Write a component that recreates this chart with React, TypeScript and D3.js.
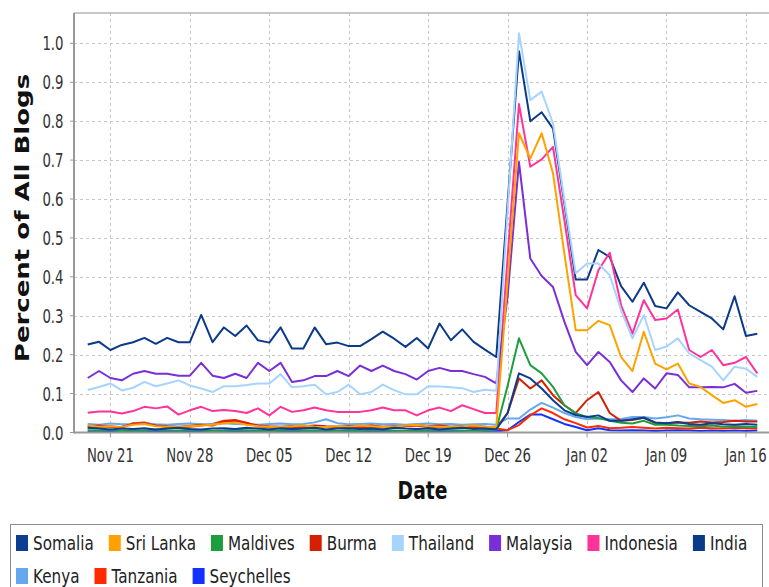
import React, { useEffect, useRef } from "react";
import * as d3 from "d3";

// daily share of all blogs mentioning each country, Nov 19 2004 .. Jan 17 2005
const parseDay = d3.timeParse("%Y-%m-%d");
const firstDay = parseDay("2004-11-19");
const lastDay = parseDay("2005-01-17");
const days = d3.timeDay.range(firstDay, d3.timeDay.offset(lastDay, 1));

const tickDays = [
  "2004-11-21", "2004-11-28", "2004-12-05", "2004-12-12", "2004-12-19",
  "2004-12-26", "2005-01-02", "2005-01-09", "2005-01-16",
].map(parseDay);

const yTicks = [0, 0.1, 0.2, 0.3, 0.4, 0.5, 0.6, 0.7, 0.8, 0.9, 1.0];

const countries = [
  "Somalia", "Sri Lanka", "Maldives", "Burma", "Thailand", "Malaysia",
  "Indonesia", "India", "Kenya", "Tanzania", "Seychelles",
];
const colors = [
  "#0b3d91", "#ffa200", "#1d9e3e", "#d42000", "#a6d4ff", "#7a2fd6",
  "#ff3399", "#0a3a88", "#66a8ee", "#ff2a00", "#1432ff",
];

const somalia = [
  0.012, 0.010, 0.008, 0.010, 0.009, 0.011, 0.008, 0.010, 0.012, 0.009,
  0.008, 0.010, 0.011, 0.009, 0.012, 0.010, 0.008, 0.011, 0.009, 0.010,
  0.012, 0.008, 0.010, 0.011, 0.009, 0.010, 0.008, 0.012, 0.010, 0.009,
  0.011, 0.008, 0.010, 0.012, 0.009, 0.010, 0.008, 0.050, 0.152, 0.139,
  0.113, 0.083, 0.057, 0.045, 0.040, 0.044, 0.030, 0.030, 0.034, 0.038,
  0.026, 0.024, 0.027, 0.022, 0.020, 0.024, 0.021, 0.020, 0.022, 0.020,
];
const sriLanka = [
  0.018, 0.015, 0.016, 0.014, 0.020, 0.022, 0.016, 0.015, 0.014, 0.016,
  0.018, 0.020, 0.024, 0.026, 0.020, 0.016, 0.015, 0.014, 0.016, 0.018,
  0.015, 0.014, 0.016, 0.015, 0.018, 0.016, 0.014, 0.015, 0.018, 0.020,
  0.016, 0.015, 0.014, 0.016, 0.018, 0.015, 0.014, 0.390, 0.769, 0.704,
  0.769, 0.666, 0.460, 0.263, 0.263, 0.287, 0.276, 0.194, 0.158, 0.259,
  0.177, 0.162, 0.177, 0.126, 0.117, 0.096, 0.076, 0.083, 0.066, 0.073,
];
const maldives = [
  0.006, 0.005, 0.007, 0.004, 0.006, 0.005, 0.008, 0.006, 0.005, 0.007,
  0.006, 0.004, 0.005, 0.007, 0.006, 0.005, 0.004, 0.006, 0.007, 0.005,
  0.006, 0.005, 0.004, 0.006, 0.005, 0.007, 0.006, 0.005, 0.004, 0.006,
  0.005, 0.007, 0.006, 0.005, 0.004, 0.006, 0.008, 0.120, 0.242, 0.173,
  0.152, 0.117, 0.070, 0.049, 0.040, 0.037, 0.030, 0.025, 0.023, 0.030,
  0.020, 0.020, 0.018, 0.017, 0.016, 0.018, 0.015, 0.016, 0.015, 0.014,
];
const burma = [
  0.016, 0.018, 0.014, 0.015, 0.022, 0.024, 0.018, 0.016, 0.015, 0.017,
  0.020, 0.018, 0.028, 0.030, 0.024, 0.018, 0.016, 0.015, 0.017, 0.016,
  0.018, 0.016, 0.015, 0.017, 0.016, 0.018, 0.015, 0.016, 0.017, 0.019,
  0.016, 0.018, 0.015, 0.017, 0.016, 0.015, 0.012, 0.050, 0.139, 0.113,
  0.134, 0.096, 0.070, 0.050, 0.083, 0.104, 0.050, 0.030, 0.032, 0.038,
  0.025, 0.024, 0.026, 0.025, 0.028, 0.026, 0.027, 0.030, 0.028, 0.028,
];
const thailand = [
  0.109, 0.117, 0.126, 0.108, 0.115, 0.130, 0.119, 0.126, 0.134, 0.121,
  0.113, 0.104, 0.119, 0.119, 0.122, 0.126, 0.126, 0.150, 0.116, 0.119,
  0.123, 0.098, 0.104, 0.123, 0.098, 0.104, 0.123, 0.109, 0.098, 0.098,
  0.119, 0.118, 0.116, 0.114, 0.104, 0.110, 0.107, 0.570, 1.026, 0.854,
  0.876, 0.794, 0.597, 0.409, 0.434, 0.434, 0.404, 0.314, 0.242, 0.302,
  0.212, 0.221, 0.242, 0.203, 0.186, 0.169, 0.134, 0.169, 0.164, 0.143,
];
const malaysia = [
  0.140, 0.158, 0.140, 0.134, 0.151, 0.158, 0.151, 0.151, 0.146, 0.146,
  0.179, 0.146, 0.140, 0.151, 0.140, 0.179, 0.158, 0.179, 0.130, 0.134,
  0.145, 0.145, 0.158, 0.145, 0.172, 0.158, 0.172, 0.158, 0.150, 0.136,
  0.158, 0.166, 0.158, 0.158, 0.150, 0.143, 0.126, 0.350, 0.695, 0.447,
  0.402, 0.374, 0.285, 0.207, 0.173, 0.207, 0.181, 0.134, 0.104, 0.139,
  0.113, 0.152, 0.148, 0.116, 0.116, 0.117, 0.116, 0.125, 0.102, 0.107,
];
const indonesia = [
  0.051, 0.054, 0.054, 0.049, 0.055, 0.066, 0.062, 0.067, 0.046, 0.057,
  0.066, 0.055, 0.058, 0.055, 0.050, 0.062, 0.044, 0.066, 0.053, 0.057,
  0.064, 0.057, 0.053, 0.053, 0.053, 0.057, 0.064, 0.057, 0.057, 0.044,
  0.057, 0.064, 0.055, 0.070, 0.060, 0.050, 0.050, 0.450, 0.844, 0.683,
  0.702, 0.734, 0.546, 0.353, 0.319, 0.417, 0.462, 0.327, 0.254, 0.340,
  0.289, 0.293, 0.316, 0.212, 0.194, 0.212, 0.173, 0.179, 0.194, 0.152,
];
const india = [
  0.226, 0.233, 0.212, 0.225, 0.232, 0.243, 0.228, 0.243, 0.232, 0.232,
  0.302, 0.232, 0.270, 0.248, 0.275, 0.237, 0.231, 0.270, 0.216, 0.216,
  0.270, 0.227, 0.231, 0.222, 0.222, 0.240, 0.259, 0.241, 0.220, 0.243,
  0.216, 0.280, 0.237, 0.265, 0.233, 0.213, 0.194, 0.590, 0.980, 0.800,
  0.823, 0.781, 0.589, 0.393, 0.393, 0.469, 0.451, 0.376, 0.336, 0.385,
  0.325, 0.319, 0.360, 0.327, 0.310, 0.293, 0.265, 0.350, 0.248, 0.254,
];
const kenya = [
  0.022, 0.020, 0.023, 0.021, 0.022, 0.024, 0.021, 0.020, 0.022, 0.023,
  0.021, 0.022, 0.024, 0.022, 0.021, 0.020, 0.022, 0.023, 0.021, 0.022,
  0.026, 0.034, 0.024, 0.021, 0.022, 0.023, 0.021, 0.022, 0.020, 0.022,
  0.023, 0.021, 0.022, 0.020, 0.021, 0.022, 0.020, 0.036, 0.036, 0.059,
  0.076, 0.064, 0.050, 0.040, 0.034, 0.036, 0.034, 0.035, 0.040, 0.040,
  0.036, 0.039, 0.044, 0.036, 0.034, 0.033, 0.032, 0.030, 0.032, 0.030,
];
const tanzania = [
  0.012, 0.014, 0.016, 0.013, 0.024, 0.026, 0.018, 0.014, 0.012, 0.015,
  0.018, 0.022, 0.030, 0.032, 0.025, 0.016, 0.013, 0.012, 0.014, 0.013,
  0.012, 0.014, 0.013, 0.012, 0.015, 0.013, 0.012, 0.014, 0.016, 0.018,
  0.014, 0.013, 0.012, 0.014, 0.013, 0.012, 0.010, 0.006, 0.019, 0.044,
  0.062, 0.050, 0.034, 0.024, 0.013, 0.017, 0.011, 0.012, 0.014, 0.012,
  0.010, 0.012, 0.011, 0.010, 0.012, 0.011, 0.010, 0.012, 0.011, 0.010,
];
const seychelles = [
  0.003, 0.002, 0.004, 0.003, 0.002, 0.003, 0.004, 0.002, 0.003, 0.003,
  0.002, 0.004, 0.003, 0.002, 0.003, 0.004, 0.003, 0.002, 0.003, 0.002,
  0.003, 0.004, 0.002, 0.003, 0.003, 0.002, 0.004, 0.003, 0.002, 0.003,
  0.004, 0.003, 0.002, 0.003, 0.003, 0.002, 0.003, 0.006, 0.027, 0.046,
  0.046, 0.034, 0.022, 0.014, 0.006, 0.011, 0.006, 0.005, 0.006, 0.005,
  0.004, 0.005, 0.006, 0.005, 0.004, 0.005, 0.004, 0.005, 0.004, 0.005,
];

const seriesValues = [
  somalia, sriLanka, maldives, burma, thailand, malaysia,
  indonesia, india, kenya, tanzania, seychelles,
];

const W = 769;
const H = 587;
const FONT = "DejaVu Sans";
const SQUEEZE = 0.72; // the original render is narrow, glyphs look condensed

const Chart = () => {
  const ref = useRef(null);

  useEffect(() => {
    const svg = d3.select(ref.current);
    svg.selectAll("*").remove();

    const left = 74, right = 771, top = 13, bottom = 432.5;

    const x = d3
      .scaleTime()
      .domain([d3.timeHour.offset(days[0], -29), d3.timeHour.offset(days[days.length - 1], 29)])
      .range([left, right]);
    const y = d3.scaleLinear().domain([0, 1.078]).range([bottom, top]);

    const squeezed = (g, tx, ty, s = SQUEEZE) =>
      g.append("text").attr("transform", `translate(${tx},${ty}) scale(${s},1)`).attr("font-family", FONT);

    // grid
    const grid = svg.append("g").attr("stroke", "#c6c6c6").attr("stroke-dasharray", "3,3");
    yTicks.filter(t => t > 0).forEach(t => {
      const yy = Math.round(y(t)) + 0.5;
      grid.append("line").attr("x1", left).attr("x2", right).attr("y1", yy).attr("y2", yy);
    });
    tickDays.forEach(d => {
      const xx = Math.round(x(d)) + 0.5;
      grid.append("line").attr("x1", xx).attr("x2", xx).attr("y1", top).attr("y2", bottom);
    });

    // series, first series drawn last (on top)
    const line = d3
      .line()
      .x((d, i) => x(days[i]))
      .y(d => y(d));
    for (let s = seriesValues.length - 1; s >= 0; s--) {
      svg
        .append("path")
        .attr("d", line(seriesValues[s]))
        .attr("fill", "none")
        .attr("stroke", colors[s])
        .attr("stroke-width", 2)
        .attr("stroke-linejoin", "round");
    }

    // frame and axes
    svg.append("line").attr("x1", left).attr("x2", right).attr("y1", top).attr("y2", top)
      .attr("stroke", "#b4b4b4").attr("stroke-width", 1.5);
    svg.append("line").attr("x1", left).attr("x2", left).attr("y1", top).attr("y2", bottom + 1)
      .attr("stroke", "#999").attr("stroke-width", 2);
    svg.append("line").attr("x1", left).attr("x2", W).attr("y1", bottom).attr("y2", bottom)
      .attr("stroke", "#999").attr("stroke-width", 2);

    const yAxis = svg.append("g");
    yTicks.forEach(t => {
      const yy = y(t);
      yAxis.append("line").attr("x1", left - 4).attr("x2", left).attr("y1", yy).attr("y2", yy)
        .attr("stroke", "#999");
      squeezed(yAxis, 63.5, yy + 7, 0.7)
        .attr("text-anchor", "end")
        .attr("font-size", 19)
        .attr("fill", "#333")
        .text(d3.format(".1f")(t));
    });

    const xAxis = svg.append("g");
    tickDays.forEach(d => {
      const xx = x(d);
      xAxis.append("line").attr("x1", xx).attr("x2", xx).attr("y1", bottom).attr("y2", bottom + 5)
        .attr("stroke", "#999");
      squeezed(xAxis, xx, 462, 0.7)
        .attr("text-anchor", "middle")
        .attr("font-size", 19)
        .attr("fill", "#333")
        .text(d3.timeFormat("%b %d")(d));
    });

    squeezed(svg, (left + right) / 2, 499, 0.75)
      .attr("text-anchor", "middle")
      .attr("font-size", 25)
      .attr("font-weight", "bold")
      .attr("fill", "#111")
      .text("Date");

    svg
      .append("text")
      .attr("transform", `translate(29,218) scale(0.75,1) rotate(-90)`)
      .attr("font-family", FONT)
      .attr("text-anchor", "middle")
      .attr("font-size", 26)
      .attr("font-weight", "bold")
      .attr("fill", "#111")
      .text("Percent of All Blogs");

    // legend
    const legend = svg.append("g");
    legend.append("rect").attr("x", 10.5).attr("y", 524.5).attr("width", 752).attr("height", 80)
      .attr("fill", "white").attr("stroke", "#8c8c8c");
    const rowY = [550, 583];
    let lx = 16, row = 0;
    countries.forEach((name, i) => {
      const label = squeezed(legend, 0, 0, 0.76).attr("font-size", 20).attr("fill", "#222").text(name);
      const w = label.node().getComputedTextLength() * 0.76;
      if (lx + 17 + w > 758) {
        row += 1;
        lx = 16;
      }
      legend.append("rect").attr("x", lx).attr("y", rowY[row] - 15).attr("width", 12).attr("height", 16)
        .attr("fill", colors[i]);
      label.attr("transform", `translate(${lx + 17},${rowY[row]}) scale(0.76,1)`);
      lx += 17 + w + 15;
    });
  }, []);

  return (
    <svg
      ref={ref}
      width={W}
      height={H}
      style={{ position: "absolute", left: 0, top: 0, background: "white" }}
    />
  );
};

export default function App() {
  return <Chart />;
}
